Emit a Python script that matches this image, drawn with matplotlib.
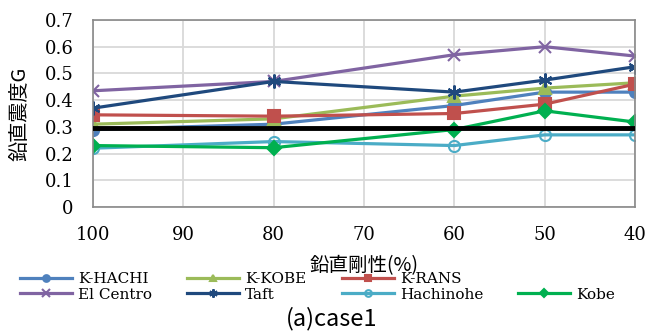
import matplotlib.pyplot as plt
from matplotlib.lines import Line2D

# stiffness (%) and vertical seismic coefficient G per wave
stiffness = [100, 80, 60, 50, 40]
k_hachi = [0.29, 0.31, 0.38, 0.43, 0.43]
k_kobe = [0.31, 0.33, 0.415, 0.445, 0.465]
k_rans = [0.345, 0.34, 0.35, 0.385, 0.46]
el_centro = [0.435, 0.47, 0.57, 0.60, 0.565]
taft = [0.37, 0.47, 0.43, 0.475, 0.525]
hachinohe = [0.22, 0.245, 0.23, 0.27, 0.27]
kobe = [0.23, 0.222, 0.29, 0.36, 0.318]
design_level = [0.295] * 5

plt.rcParams["font.family"] = ["DejaVu Serif", "Noto Sans CJK JP"]
jp = ["Noto Sans CJK JP", "DejaVu Sans"]

fig = plt.figure(figsize=(6.48, 3.31), dpi=100)
ax = fig.add_axes([0.1435, 0.3746, 0.8365, 0.565])

series = [
    ("K-HACHI", k_hachi, "#4F81BD", "o", 8),
    ("K-KOBE", k_kobe, "#9BBB59", "^", 8),
    ("K-RANS", k_rans, "#C0504D", "s", 8),
    ("El Centro", el_centro, "#8064A2", "x", 9),
    ("Taft", taft, "#1F497D", (6, 2, 0), 10),
    ("Hachinohe", hachinohe, "#4BACC6", "o", 8),
    ("Kobe", kobe, "#00B050", "D", 7),
]

handles = {}
for name, vals, col, mk, ms in series:
    kw = dict(color=col, lw=2.3, marker=mk, markersize=ms, label=name,
              markeredgewidth=1.5)
    if name == "Hachinohe":
        kw.update(markerfacecolor="none", markeredgecolor=col)
    h, = ax.plot(stiffness, vals, **kw)
    handles[name] = h

ax.plot(stiffness, design_level, color="black", lw=3.5, zorder=5)

ax.set_xlim(100, 40)
ax.set_ylim(0, 0.7)
ax.set_xticks([100, 90, 80, 70, 60, 50, 40])
ax.set_yticks([0, 0.1, 0.2, 0.3, 0.4, 0.5, 0.6, 0.7])
ax.set_yticklabels(["0", "0.1", "0.2", "0.3", "0.4", "0.5", "0.6", "0.7"])
ax.tick_params(labelsize=13, length=0, pad=14)
ax.grid(True, color="#D9D9D9", lw=1.3)
ax.set_axisbelow(True)
for s in ax.spines.values():
    s.set_color("#898989")
    s.set_linewidth(1.2)

ax.set_xlabel("鉛直剛性(%)", family=jp, fontsize=14)
ax.xaxis.set_label_coords(0.5, -0.255)
ax.set_ylabel("鉛直震度G", family=jp, fontsize=14.5, labelpad=10)

blank = Line2D([], [], color="none")
order = [handles["K-HACHI"], handles["El Centro"], handles["K-KOBE"], handles["Taft"],
         handles["K-RANS"], handles["Hachinohe"], blank, handles["Kobe"]]
labels = ["K-HACHI", "El Centro", "K-KOBE", "Taft", "K-RANS", "Hachinohe", "", "Kobe"]
fig.legend(order, labels, ncol=4, loc="upper left", bbox_to_anchor=(0.031, 0.177),
           frameon=False, prop={"size": 11},
           handlelength=3.4, handletextpad=0.4, columnspacing=2.3,
           labelspacing=0.08, borderaxespad=0, borderpad=0, markerscale=0.6)

fig.text(0.511, 0.038, "(a)case1", family=jp, fontsize=17, ha="center", va="center")

fig.savefig("out.png", dpi=100)
